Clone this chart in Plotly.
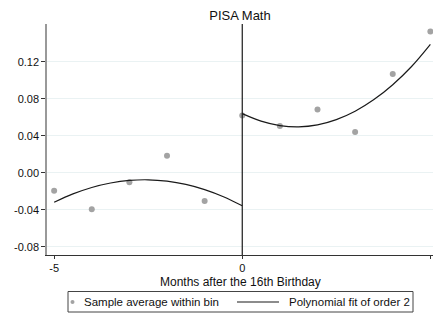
import plotly.graph_objects as go

# Binned sample averages
bin_x = [-5, -4, -3, -2, -1, 0, 1, 2, 3, 4, 5]
bin_y = [-0.0195, -0.0396, -0.0104, 0.0184, -0.0306, 0.062, 0.0505, 0.0685, 0.044, 0.107, 0.153]

# Polynomial fit (order 2)
fit_left_x = [-5, -4.5, -4, -3.5, -3, -2.5, -2, -1.5, -1, -0.5, 0]
fit_left_y = [-0.0320, -0.0229, -0.0159, -0.0111, -0.0083, -0.0076, -0.0091, -0.0126, -0.0182, -0.0259, -0.0358]
fit_right_x = [0, 0.5, 1, 1.5, 2, 2.5, 3, 3.5, 4, 4.5, 5]
fit_right_y = [0.0640, 0.0559, 0.0511, 0.0497, 0.0518, 0.0575, 0.0666, 0.0792, 0.0953, 0.1150, 0.1390]

x_ticks = [-5, 0, 5]
x_ticklabels = ["-5", "0", "5"]
y_ticks = [-0.08, -0.04, 0.0, 0.04, 0.08, 0.12]
y_ticklabels = ["-0.08", "-0.04", "0.00", "0.04", "0.08", "0.12"]

legend_labels = ["Sample average within bin", "Polynomial fit of order 2"]

font = "Liberation Sans, Arial, sans-serif"
W, H = 433, 318
ML, MR, MT, MB = 47, 0, 24, 63
PW, PH = W - ML - MR, H - MT - MB


def px(x):
    return (x - ML) / PW


def py(y):
    return (H - MB - y) / PH


fig = go.Figure()
fig.add_trace(go.Scatter(
    x=bin_x, y=bin_y, mode="markers",
    marker=dict(color="#a3a3a3", size=6),
    name=legend_labels[0],
))
fig.add_trace(go.Scatter(
    x=fit_left_x, y=fit_left_y, mode="lines", line=dict(color="#1a1a1a", width=1.2, shape="spline"),
    name=legend_labels[1],
))
fig.add_trace(go.Scatter(
    x=fit_right_x, y=fit_right_y, mode="lines", line=dict(color="#1a1a1a", width=1.2, shape="spline"),
    name=legend_labels[1],
))

# cutoff line
fig.add_shape(type="line", xref="x", yref="paper", x0=0, x1=0, y0=0, y1=1,
              line=dict(color="#1a1a1a", width=1.2))

# x-axis title
fig.add_annotation(text="Months after the 16th Birthday", xref="paper", yref="paper",
                   x=0.5, y=py(281.5), xanchor="center", yanchor="middle", showarrow=False,
                   font=dict(size=12, family=font, color="#111"), borderpad=0)

# legend box (drawn by hand to match layout)
ly = 302
fig.add_shape(type="rect", xref="paper", yref="paper", x0=px(68), x1=px(413), y0=py(291.5), y1=py(312),
              line=dict(color="#444", width=1), fillcolor="white", layer="above")
fig.add_shape(type="circle", xref="paper", yref="paper", x0=px(70.5), x1=px(74.5), y0=py(ly + 2), y1=py(ly - 2),
              line=dict(width=0), fillcolor="#a3a3a3", layer="above")
fig.add_shape(type="line", xref="paper", yref="paper", x0=px(237), x1=px(279), y0=py(ly), y1=py(ly),
              line=dict(color="#1a1a1a", width=1.2), layer="above")
fig.add_annotation(text=legend_labels[0], xref="paper", yref="paper", x=px(82), y=py(ly),
                   xanchor="left", yanchor="middle", showarrow=False,
                   font=dict(size=11.5, family=font, color="#111"))
fig.add_annotation(text=legend_labels[1], xref="paper", yref="paper", x=px(287), y=py(ly),
                   xanchor="left", yanchor="middle", showarrow=False,
                   font=dict(size=11.5, family=font, color="#111"))

fig.update_layout(
    width=W, height=H,
    margin=dict(l=ML, r=MR, t=MT, b=MB),
    paper_bgcolor="white", plot_bgcolor="white",
    font=dict(family=font, size=12, color="#111"),
    title=dict(text="PISA Math", x=0.5, xref="paper", xanchor="center", y=1 - 15.5 / H, yanchor="middle",
               font=dict(size=13, family=font, color="#111")),
    showlegend=False,
    xaxis=dict(range=[-5.19, 5.07], tickvals=x_ticks, ticktext=x_ticklabels,
               showgrid=False, zeroline=False, showline=True, linecolor="#333", linewidth=1,
               ticks="outside", ticklen=3, tickcolor="#333", tickfont=dict(size=11)),
    yaxis=dict(range=[-0.089, 0.161], tickvals=y_ticks, ticktext=y_ticklabels,
               showgrid=True, gridcolor="#eaf2f3", gridwidth=1, zeroline=False,
               showline=True, linecolor="#999", linewidth=1.5,
               ticks="outside", ticklen=4, tickcolor="#333", tickfont=dict(size=11)),
)

fig.write_html("out.html", config={"displayModeBar": False},
               post_script="document.body.style.margin='0';")
